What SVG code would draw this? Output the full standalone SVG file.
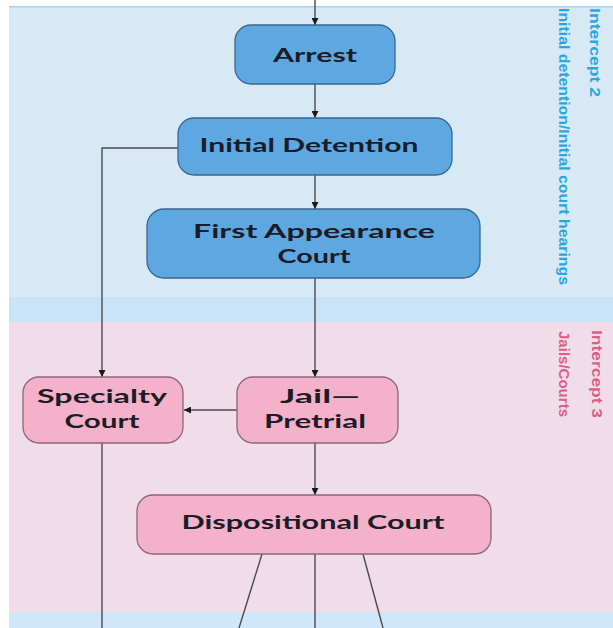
<svg xmlns="http://www.w3.org/2000/svg" width="613" height="628" viewBox="0 0 613 628">
<defs>
<style>
.blue{fill:#5ea8e2;stroke:#3a6791;stroke-width:1.3}
.pink{fill:#f3b2c9;stroke:#8f6677;stroke-width:1.3}
.lbl{font-family:"Century Gothic","Lato","DejaVu Sans",sans-serif;font-weight:700;font-size:18px;fill:#1c1c28;text-anchor:middle}
.con{stroke:#4a4a50;stroke-width:1.4;fill:none}
.side{font-family:"Liberation Sans","DejaVu Sans",sans-serif;font-weight:700;font-size:15px}
</style>
<marker id="ah" viewBox="0 0 10 10" refX="10" refY="5" markerWidth="7" markerHeight="7" markerUnits="userSpaceOnUse" orient="auto">
<path d="M0,0 L10,5 L0,10 z" fill="#1a1a1a"/>
</marker>
</defs>
<rect x="0" y="0" width="613" height="628" fill="#ffffff"/>
<rect x="9" y="6" width="604" height="292" fill="#d8e9f6"/>
<rect x="9" y="6" width="604" height="1.5" fill="#a9d2f2"/>
<rect x="9" y="297" width="604" height="25" fill="#c9e3f8"/>
<rect x="9" y="322" width="604" height="291" fill="#f0dde9"/>
<rect x="9" y="612" width="604" height="16" fill="#cfe7f8"/>

<g id="connectors">
<line class="con" x1="315" y1="0" x2="315" y2="25" marker-end="url(#ah)"/>
<line class="con" x1="315" y1="84" x2="315" y2="118" marker-end="url(#ah)"/>
<line class="con" x1="315" y1="175" x2="315" y2="209" marker-end="url(#ah)"/>
<line class="con" x1="315" y1="278" x2="315" y2="377" marker-end="url(#ah)"/>
<polyline class="con" points="178,148 102,148 102,377" marker-end="url(#ah)"/>
<line class="con" x1="237" y1="410" x2="184" y2="410" marker-end="url(#ah)"/>
<line class="con" x1="315" y1="443" x2="315" y2="495" marker-end="url(#ah)"/>
<line class="con" x1="102" y1="443" x2="102" y2="628"/>
<line class="con" x1="262" y1="554" x2="239" y2="628"/>
<line class="con" x1="315" y1="554" x2="315" y2="628"/>
<line class="con" x1="363" y1="554" x2="383" y2="628"/>
</g>

<g id="arrest">
<rect class="blue" x="235" y="25" width="160" height="59" rx="16"/>
<text class="lbl" x="315" y="62" textLength="84" lengthAdjust="spacingAndGlyphs">Arrest</text>
</g>
<g id="initial-detention">
<rect class="blue" x="178" y="118" width="274" height="57" rx="16"/>
<text class="lbl" x="309" y="152" textLength="219" lengthAdjust="spacingAndGlyphs">Initial Detention</text>
</g>
<g id="first-appearance">
<rect class="blue" x="147" y="209" width="333" height="69" rx="17"/>
<text class="lbl" x="314" y="238" textLength="242" lengthAdjust="spacingAndGlyphs">First Appearance</text>
<text class="lbl" x="314" y="263" textLength="73" lengthAdjust="spacingAndGlyphs">Court</text>
</g>
<g id="specialty-court">
<rect class="pink" x="23" y="377" width="160" height="66" rx="16"/>
<text class="lbl" x="102" y="403" textLength="130" lengthAdjust="spacingAndGlyphs">Specialty</text>
<text class="lbl" x="102" y="428" textLength="75" lengthAdjust="spacingAndGlyphs">Court</text>
</g>
<g id="jail-pretrial">
<rect class="pink" x="237" y="377" width="161" height="66" rx="16"/>
<text class="lbl" x="320" y="403" textLength="80" lengthAdjust="spacingAndGlyphs">Jail—</text>
<text class="lbl" x="315" y="428" textLength="102" lengthAdjust="spacingAndGlyphs">Pretrial</text>
</g>
<g id="dispositional-court">
<rect class="pink" x="137" y="495" width="354" height="59" rx="16"/>
<text class="lbl" x="313" y="529" textLength="263" lengthAdjust="spacingAndGlyphs">Dispositional Court</text>
</g>

<g id="intercept2-label">
<text class="side" fill="#2aa6de" transform="translate(590,8) rotate(90)" textLength="89" lengthAdjust="spacingAndGlyphs">Intercept 2</text>
<text class="side" fill="#2aa6de" transform="translate(559,8) rotate(90)" textLength="277" lengthAdjust="spacingAndGlyphs">Initial detention/Initial court hearings</text>
</g>
<g id="intercept3-label">
<text class="side" fill="#dc5f88" transform="translate(592,330) rotate(90)" textLength="88" lengthAdjust="spacingAndGlyphs">Intercept 3</text>
<text class="side" fill="#dc5f88" transform="translate(559,331) rotate(90)" textLength="86" lengthAdjust="spacingAndGlyphs">Jails/Courts</text>
</g>
</svg>
